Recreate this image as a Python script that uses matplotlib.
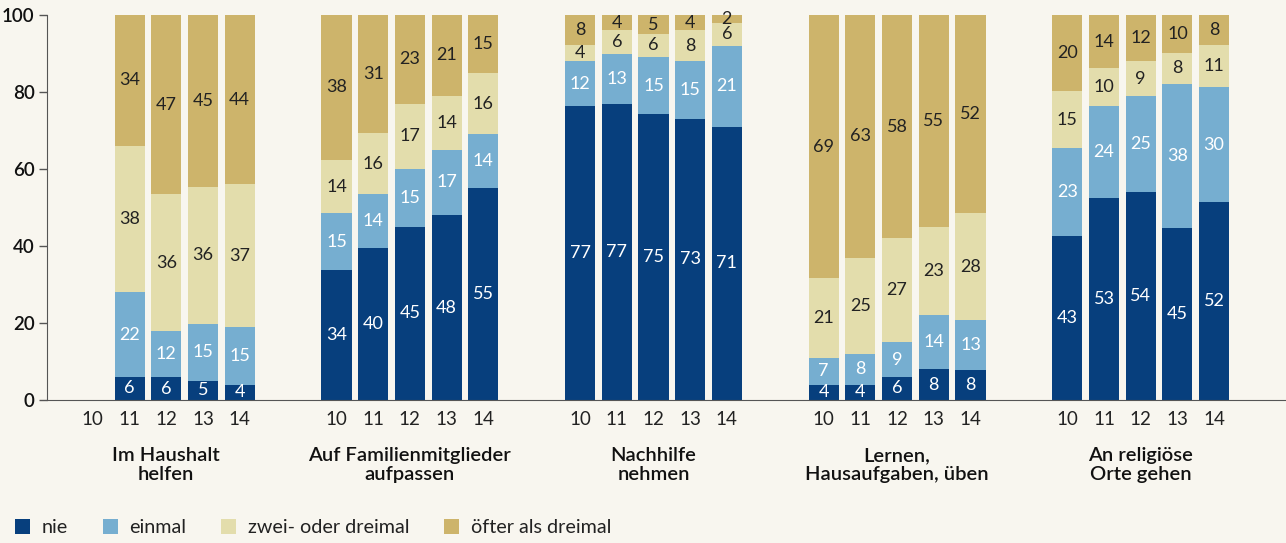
import numpy as np
import matplotlib
matplotlib.use("Agg")
import matplotlib.pyplot as plt
from matplotlib.patches import Patch

plt.rcParams['font.family'] = ['Lato', 'DejaVu Sans']

groups = ["Im Haushalt\nhelfen", "Auf Familienmitglieder\naufpassen", "Nachhilfe\nnehmen",
          "Lernen,\nHausaufgaben, üben", "An religiöse\nOrte gehen"]
ages = ["10", "11", "12", "13", "14"]
categories = ["nie", "einmal", "zwei- oder dreimal", "öfter als dreimal"]
colors = ["#073f7d", "#76aed0", "#e3ddac", "#cdb46b"]

# values[group][age] ; None = no data
nie = [[None, 6, 6, 5, 4], [34, 40, 45, 48, 55], [77, 77, 75, 73, 71], [4, 4, 6, 8, 8], [43, 53, 54, 45, 52]]
einmal = [[None, 22, 12, 15, 15], [15, 14, 15, 17, 14], [12, 13, 15, 15, 21], [7, 8, 9, 14, 13], [23, 24, 25, 38, 30]]
zwei = [[None, 38, 36, 36, 37], [14, 16, 17, 14, 16], [4, 6, 6, 8, 6], [21, 25, 27, 23, 28], [15, 10, 9, 8, 11]]
oefter = [[None, 34, 47, 45, 44], [38, 31, 23, 21, 15], [8, 4, 5, 4, 2], [69, 63, 58, 55, 52], [20, 14, 12, 10, 8]]
series = [nie, einmal, zwei, oefter]
text_colors = ["white", "white", "#222222", "#222222"]

bg = "#f8f6ef"
fig = plt.figure(figsize=(12.86, 5.43), dpi=100, facecolor=bg)
ax = fig.add_axes([47 / 1286, 1 - 400 / 543, 1 - 47 / 1286, (400 - 15) / 543])
ax.set_facecolor(bg)

stride = 6.64
width = 0.82
xticks, xlabels = [], []
for g in range(len(groups)):
    for i in range(len(ages)):
        x = g * stride + i
        xticks.append(x)
        xlabels.append(ages[i])
        vals = [s[g][i] for s in series]
        if vals[0] is None:
            continue
        total = float(sum(vals))
        bottom = 0.0
        for k, v in enumerate(vals):
            h = v / total * 100
            ax.bar(x, h, width=width, bottom=bottom, color=colors[k], linewidth=0)
            ax.text(x, bottom + h / 2, str(v), ha="center", va="center",
                    color=text_colors[k], fontsize=13)
            bottom += h
    ax.text(g * stride + 2, -12.3, groups[g], ha="center", va="top", fontsize=14.5,
            fontweight="semibold", color="#111111", linespacing=1.1,
            transform=ax.transData, clip_on=False)

ax.set_xticks(xticks)
ax.set_xticklabels(xlabels, fontsize=13.5, color="#222222")
ax.tick_params(axis="x", length=0, pad=8)
ax.set_xlim(-1.25, 4 * stride + 4 + 1.96)
ax.set_ylim(0, 100)
ax.set_yticks([0, 20, 40, 60, 80, 100])
ax.set_yticklabels(["0", "20", "40", "60", "80", "100"], fontsize=13.5, fontweight="semibold", color="#111111")
ax.tick_params(axis="y", length=6, width=1, color="#555555", pad=3)
for s in ["top", "right"]:
    ax.spines[s].set_visible(False)
ax.spines["left"].set_color("#555555")
ax.spines["bottom"].set_color("#555555")

handles = [Patch(facecolor=c, edgecolor="none") for c in colors]
fig.legend(handles, categories, loc="lower left", bbox_to_anchor=(-0.002, -0.02), ncol=4,
           frameon=False, fontsize=14.2, handlelength=0.76, handleheight=0.76,
           handletextpad=0.6, columnspacing=1.75, labelcolor="#222222")

fig.savefig("out.png", dpi=100, facecolor=bg)
